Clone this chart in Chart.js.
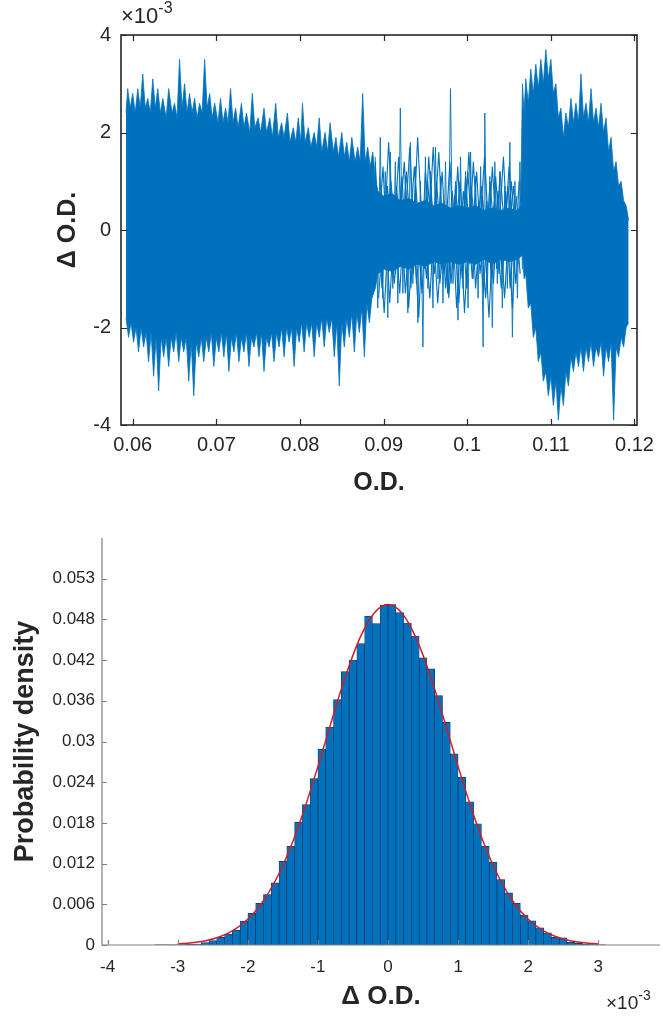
<!DOCTYPE html>
<html><head><meta charset="utf-8">
<script src="https://cdn.jsdelivr.net/npm/chart.js@4.4.1/dist/chart.umd.min.js"></script>
<style>
html,body{margin:0;padding:0;background:#fff;}
#wrap{position:relative;width:663px;height:1016px;overflow:hidden;background:#fff;}
canvas{position:absolute;left:0;}
.exp{position:absolute;font-family:'Liberation Sans',Arial,sans-serif;color:#262626;white-space:nowrap;line-height:1;}
.exp sup{vertical-align:0;position:relative;}
</style></head><body>
<div id="wrap">
<canvas id="top" width="663" height="500" style="top:0"></canvas>
<canvas id="bot" width="663" height="516" style="top:500px"></canvas>
<div class="exp" style="left:121px;top:5px;font-size:22px">×10<sup style="font-size:16px;top:-10px">-3</sup></div>
<div class="exp" style="left:606px;top:993px;font-size:19px">×10<sup style="font-size:14px;top:-9px">-3</sup></div>
</div>
<script>
// ---------- TOP CHART DATA (O.D. vs Δ O.D., Δ O.D. in units of 1e-3) ----------
const upperEnvelope = [
[0.0592,2.4],[0.0594,2.9],[0.0597,2.5],[0.0600,2.8],[0.0603,2.4],[0.0606,2.9],[0.0609,2.5],[0.0612,3.2],[0.0615,2.5],[0.0618,2.7],
[0.0621,2.4],[0.0624,3.1],[0.0627,2.5],[0.0630,2.9],[0.0633,2.4],[0.0636,2.7],[0.0640,2.3],[0.0643,2.9],[0.0647,2.4],[0.0650,2.6],
[0.0653,2.3],[0.0656,3.5],[0.0659,2.5],[0.0662,3.0],[0.0665,2.4],[0.0668,2.8],[0.0671,2.4],[0.0674,2.7],[0.0677,2.3],[0.0680,2.6],
[0.0683,2.4],[0.0686,3.5],[0.0689,2.5],[0.0692,2.8],[0.0695,2.3],[0.0698,2.6],[0.0702,2.2],[0.0705,2.7],[0.0708,2.2],[0.0711,2.5],
[0.0714,2.2],[0.0717,2.9],[0.0720,2.2],[0.0723,2.5],[0.0726,2.1],[0.0730,2.6],[0.0733,2.1],[0.0736,2.4],[0.0740,2.0],[0.0743,2.8],
[0.0746,2.1],[0.0750,2.3],[0.0753,2.0],[0.0757,2.5],[0.0760,2.0],[0.0764,2.3],[0.0767,1.9],[0.0771,2.6],[0.0774,1.9],[0.0778,2.2],
[0.0781,1.9],[0.0785,2.4],[0.0788,1.8],[0.0792,2.1],[0.0795,1.8],[0.0798,2.3],[0.0801,1.8],[0.0803,2.6],[0.0806,1.8],[0.0810,2.1],
[0.0813,1.7],[0.0817,2.0],[0.0820,1.7],[0.0823,2.3],[0.0826,1.6],[0.0830,2.0],[0.0833,1.6],[0.0836,2.2],[0.0840,1.6],[0.0843,1.9],
[0.0846,1.5],[0.0850,2.0],[0.0853,1.5],[0.0856,1.8],[0.0859,1.4],[0.0862,1.9],[0.0866,1.4],[0.0869,1.7],[0.0872,1.4],[0.0875,2.8],
[0.0878,1.4],[0.0881,1.7],[0.0884,1.3],[0.0887,1.6],[0.0890,1.1],
[0.0893,0.8],[0.0900,0.7],[0.0910,0.75],[0.0920,0.6],[0.0930,0.65],[0.0940,0.55],[0.0950,0.6],[0.0960,0.5],[0.0970,0.55],[0.0980,0.45],
[0.0990,0.5],[0.1000,0.45],[0.1010,0.5],[0.1020,0.4],[0.1030,0.45],[0.1040,0.4],[0.1050,0.45],[0.1060,0.4],[0.1064,0.5],
[0.1066,3.0],[0.1068,2.4],[0.1070,3.1],[0.1073,2.6],[0.1076,3.3],[0.1079,2.8],[0.1082,3.4],[0.1085,2.9],[0.1088,3.5],[0.1091,3.0],
[0.1094,3.7],[0.1097,3.1],[0.1100,3.5],[0.1103,2.8],[0.1106,3.0],[0.1109,2.3],[0.1112,2.5],[0.1115,1.9],[0.1118,2.4],[0.1121,2.1],
[0.1124,2.7],[0.1127,2.2],[0.1130,2.6],[0.1133,2.2],[0.1136,3.2],[0.1139,2.3],[0.1142,2.6],[0.1145,2.2],[0.1148,2.9],[0.1151,2.2],
[0.1154,2.5],[0.1157,2.1],[0.1160,2.6],[0.1163,2.0],[0.1166,2.3],[0.1169,1.6],[0.1172,1.9],[0.1175,1.2],[0.1178,1.4],[0.1181,0.9],
[0.1184,1.0],[0.1187,0.6],[0.1190,0.5],[0.1193,0.2]
];
const lowerEnvelope = [
[0.0592,-1.8],[0.0595,-2.2],[0.0598,-1.9],[0.0601,-2.3],[0.0604,-2.0],[0.0607,-2.5],[0.0610,-2.0],[0.0613,-2.4],[0.0616,-2.1],[0.0619,-2.7],
[0.0622,-2.1],[0.0625,-3.0],[0.0628,-2.2],[0.0631,-3.3],[0.0634,-2.2],[0.0637,-2.6],[0.0640,-2.2],[0.0643,-2.8],[0.0646,-2.2],[0.0649,-2.5],
[0.0652,-2.1],[0.0655,-2.7],[0.0658,-2.2],[0.0661,-2.5],[0.0664,-2.2],[0.0667,-3.1],[0.0670,-2.3],[0.0673,-3.4],[0.0676,-2.3],[0.0679,-2.6],
[0.0682,-2.2],[0.0685,-2.7],[0.0688,-2.2],[0.0691,-2.5],[0.0694,-2.1],[0.0697,-2.8],[0.0700,-2.2],[0.0703,-2.5],[0.0706,-2.1],[0.0709,-2.6],
[0.0712,-2.1],[0.0715,-2.9],[0.0718,-2.2],[0.0721,-2.5],[0.0724,-2.1],[0.0727,-2.7],[0.0730,-2.2],[0.0733,-2.5],[0.0736,-2.1],[0.0739,-2.8],
[0.0742,-2.2],[0.0745,-2.4],[0.0748,-2.1],[0.0751,-2.6],[0.0754,-2.1],[0.0757,-2.9],[0.0760,-2.2],[0.0763,-2.4],[0.0766,-2.1],[0.0769,-2.7],
[0.0772,-2.1],[0.0775,-2.4],[0.0778,-2.0],[0.0781,-2.6],[0.0784,-2.0],[0.0787,-2.3],[0.0790,-2.0],[0.0793,-2.8],[0.0796,-2.0],[0.0799,-2.3],
[0.0802,-1.9],[0.0805,-2.5],[0.0808,-1.9],[0.0811,-2.2],[0.0814,-1.9],[0.0817,-2.6],[0.0820,-1.9],[0.0823,-2.2],[0.0826,-1.8],[0.0829,-2.4],
[0.0832,-1.8],[0.0835,-2.1],[0.0838,-1.8],[0.0841,-2.6],[0.0844,-1.9],[0.0847,-3.2],[0.0850,-1.9],[0.0853,-2.4],[0.0856,-1.8],[0.0859,-2.2],
[0.0862,-1.7],[0.0865,-2.5],[0.0868,-1.7],[0.0871,-2.1],[0.0874,-1.6],[0.0877,-2.6],[0.0880,-1.5],[0.0883,-1.9],[0.0886,-1.4],[0.0890,-1.2],
[0.0893,-0.9],[0.0900,-0.8],[0.0910,-0.85],[0.0920,-0.75],[0.0930,-0.8],[0.0940,-0.7],[0.0950,-0.75],[0.0960,-0.65],[0.0970,-0.7],[0.0980,-0.65],
[0.0990,-0.7],[0.1000,-0.65],[0.1010,-0.7],[0.1020,-0.6],[0.1030,-0.7],[0.1040,-0.6],[0.1050,-0.65],[0.1060,-0.6],[0.1064,-0.55],
[0.1066,-0.5],[0.1068,-1.0],[0.1070,-0.9],[0.1073,-1.6],[0.1076,-1.5],[0.1079,-2.2],[0.1082,-2.0],[0.1085,-2.7],[0.1088,-2.5],[0.1091,-3.1],
[0.1094,-2.9],[0.1097,-3.4],[0.1100,-3.0],[0.1103,-3.6],[0.1106,-3.1],[0.1109,-3.9],[0.1112,-3.2],[0.1115,-3.6],[0.1118,-2.9],[0.1121,-3.2],
[0.1124,-2.6],[0.1127,-2.9],[0.1130,-2.5],[0.1133,-2.8],[0.1136,-2.4],[0.1139,-2.9],[0.1142,-2.4],[0.1145,-2.7],[0.1148,-2.3],[0.1151,-2.8],
[0.1154,-2.4],[0.1157,-2.6],[0.1160,-2.3],[0.1163,-3.0],[0.1166,-2.4],[0.1169,-2.7],[0.1172,-2.3],[0.1175,-3.9],[0.1178,-2.4],[0.1181,-2.6],
[0.1184,-2.2],[0.1187,-2.4],[0.1190,-2.0],[0.1193,-1.9]
];
// sparse middle section (0.089 - 0.1066): individual traces
const spikeTrace = [
[0.0890,1.5],[0.0893,-1.6],[0.0896,1.9],[0.0899,-1.4],[0.0902,1.2],[0.0905,-1.8],[0.0908,1.6],[0.0911,-1.2],[0.0914,1.4],[0.0917,-1.5],
[0.0920,2.5],[0.0923,-1.3],[0.0926,1.1],[0.0929,-1.7],[0.0932,1.8],[0.0935,-1.1],[0.0938,1.3],[0.0941,-1.9],[0.0944,1.0],[0.0947,-2.4],
[0.0950,1.5],[0.0953,-1.2],[0.0956,1.2],[0.0959,-1.6],[0.0962,1.7],[0.0965,-1.0],[0.0968,1.1],[0.0971,-1.5],[0.0974,1.4],[0.0977,-1.3],
[0.0980,2.9],[0.0983,-1.1],[0.0986,1.0],[0.0989,-1.85],[0.0992,1.5],[0.0995,-1.2],[0.0998,1.2],[0.1001,-1.6],[0.1004,1.6],[0.1007,-1.0],
[0.1010,1.1],[0.1013,-1.4],[0.1016,1.3],[0.1019,-2.4],[0.1021,2.4],[0.1024,-1.3],[0.1027,1.1],[0.1030,-2.0],[0.1033,1.4],[0.1036,-1.1],
[0.1039,1.2],[0.1042,-1.6],[0.1045,0.9],[0.1048,-1.2],[0.1051,1.8],[0.1054,-2.2],[0.1057,1.0],[0.1060,-1.4],[0.1063,1.4],[0.1066,-0.8]
];
const meshTrace1 = [
[0.0890,1.4],[0.0898,-1.2],[0.0906,1.8],[0.0914,-0.9],[0.0922,1.1],[0.0930,-1.6],[0.0938,0.8],[0.0946,-1.3],[0.0954,1.5],[0.0962,-0.7],
[0.0970,1.2],[0.0978,-1.4],[0.0986,0.9],[0.0994,-1.0],[0.1002,1.6],[0.1010,-1.2],[0.1018,0.7],[0.1026,-1.8],[0.1034,1.1],[0.1042,-0.9],
[0.1050,1.3],[0.1058,-1.1],[0.1066,0.5]
];
const meshTrace2 = [
[0.08913,-0.8],[0.08993,1.3],[0.09073,-1.5],[0.09153,0.9],[0.09233,-0.6],[0.09313,1.7],[0.09393,-1.1],[0.09473,0.6],[0.09553,-1.4],[0.09633,1.0],
[0.09713,-0.9],[0.09793,1.4],[0.09873,-1.6],[0.09953,0.8],[0.10033,-0.7],[0.10113,1.2],[0.10193,-1.3],[0.10273,1.0],[0.10353,-0.8],[0.10433,1.5],
[0.10513,-1.2],[0.10593,0.7]
];
const meshTrace3 = [
[0.08927,0.5],[0.09007,-1.7],[0.09087,1.0],[0.09167,-0.5],[0.09247,1.4],[0.09327,-1.2],[0.09407,1.9],[0.09487,-0.8],[0.09567,0.9],[0.09647,-1.5],
[0.09727,0.6],[0.09807,-1.1],[0.09887,1.3],[0.09967,-1.7],[0.10047,0.9],[0.10127,-0.6],[0.10207,1.5],[0.10287,-1.0],[0.10367,0.8],[0.10447,-1.4],
[0.10527,1.0],[0.10607,-0.7]
];
const meshTrace4 = [
[0.0894,-1.4],[0.0902,0.7],[0.0910,-0.9],[0.0918,1.5],[0.0926,-1.3],[0.0934,0.6],[0.0942,-1.8],[0.0950,1.2],[0.0958,-0.7],[0.0966,1.6],
[0.0974,-1.2],[0.0982,0.8],[0.0990,-1.5],[0.0998,1.1],[0.1006,-1.0],[0.1014,0.6],[0.1022,-1.4],[0.1030,1.3],[0.1038,-0.9],[0.1046,0.8],
[0.1054,-1.6],[0.1062,1.0]
];
const meshTrace5 = [
[0.08953,1.1],[0.09033,-0.6],[0.09113,0.6],[0.09193,-1.3],[0.09273,1.2],[0.09353,-0.9],[0.09433,0.5],[0.09513,-1.0],[0.09593,1.7],[0.09673,-1.1],
[0.09753,0.4],[0.09833,-0.8],[0.09913,1.0],[0.09993,-1.2],[0.10073,1.4],[0.10153,-0.9],[0.10233,0.6],[0.10313,-1.1],[0.10393,1.2],[0.10473,-0.6],
[0.10553,0.9],[0.10633,-0.9]
];
const meshTrace6 = [
[0.08967,-0.4],[0.09047,0.9],[0.09127,-1.1],[0.09207,0.4],[0.09287,-0.8],[0.09367,1.3],[0.09447,-0.5],[0.09527,1.0],[0.09607,-0.9],[0.09687,0.5],
[0.09767,-1.3],[0.09847,0.7],[0.09927,-0.4],[0.10007,1.2],[0.10087,-0.8],[0.10167,0.9],[0.10247,-0.5],[0.10327,0.6],[0.10407,-1.2],[0.10487,0.9],
[0.10567,-0.6],[0.10647,0.8]
];
const topXTicks = [0.06,0.07,0.08,0.09,0.10,0.11,0.12];
const topXTickLabels = ['0.06','0.07','0.08','0.09','0.1','0.11','0.12'];
const topYTicks = [-4,-2,0,2,4];
const topYTickLabels = ['-4','-2','0','2','4'];

// ---------- BOTTOM CHART DATA (histogram of Δ O.D., x in units of 1e-3) ----------
const binCenters = [-3.275,-3.164,-3.053,-2.942,-2.831,-2.720,-2.609,-2.498,-2.387,-2.276,
-2.165,-2.054,-1.943,-1.832,-1.721,-1.610,-1.499,-1.388,-1.277,-1.166,
-1.055,-0.944,-0.833,-0.722,-0.611,-0.500,-0.389,-0.278,-0.167,-0.056,
0.056,0.167,0.278,0.389,0.500,0.611,0.722,0.833,0.944,1.055,
1.166,1.277,1.388,1.499,1.610,1.721,1.832,1.943,2.054,2.165,
2.276,2.387,2.498,2.609,2.720,2.831,2.942,3.053];
const binDensity = [0.00002,0.00003,0.00004,0.00006,0.0001,0.00015,0.00034,0.00063,0.00112,0.00155,
0.00218,0.00349,0.00461,0.00607,0.00737,0.00907,0.0122,0.0144,0.0179,0.0205,
0.0243,0.0286,0.0318,0.0358,0.0399,0.0416,0.0440,0.0480,0.0469,0.0496,
0.0497,0.0485,0.0470,0.0451,0.0419,0.0403,0.0364,0.0325,0.0279,0.0245,
0.0209,0.0177,0.0144,0.0121,0.00956,0.00761,0.00607,0.00437,0.00354,0.00252,
0.00179,0.00112,0.00106,0.00039,0.00025,0.0001,0.00005,0.00003];
const fitX = [-3.0,-2.8,-2.6,-2.4,-2.2,-2.0,-1.8,-1.6,-1.4,-1.2,-1.0,-0.8,-0.6,-0.4,-0.2,0,
0.2,0.4,0.6,0.8,1.0,1.2,1.4,1.6,1.8,2.0,2.2,2.4,2.6,2.8,3.0];
const fitDensity = [0.00015,0.00032,0.00063,0.00121,0.00218,0.00376,0.00613,0.00952,0.01402,0.01961,0.02606,0.03288,0.03939,0.04482,0.04843,0.0497,
0.04843,0.04482,0.03939,0.03288,0.02606,0.01961,0.01402,0.00952,0.00613,0.00376,0.00218,0.00121,0.00063,0.00032,0.00015];
const botXTicks = [-4,-3,-2,-1,0,1,2,3];
const botXTickLabels = ['-4','-3','-2','-1','0','1','2','3'];
const botYTicks = [0,0.00594,0.01188,0.01782,0.02376,0.0297,0.03564,0.04158,0.04752,0.05346];
const botYTickLabels = ['0','0.006','0.012','0.018','0.024','0.03','0.036','0.042','0.048','0.053'];

// ---------- RENDER ----------
Chart.defaults.font.family = "'Liberation Sans', Arial, Helvetica, sans-serif";
Chart.defaults.color = '#262626';
const BLUE = '#0072BD';
const toXY = arr => arr.map(p => ({x: p[0], y: p[1]}));
const trace = (arr, w) => ({ data: toXY(arr), borderColor: BLUE, borderWidth: w, pointRadius: 0, fill: false, tension: 0 });

const topFrame = {
  id: 'topFrame',
  afterDraw(chart) {
    const {ctx, chartArea: a, scales: {x, y}} = chart;
    ctx.save();
    ctx.strokeStyle = '#262626';
    ctx.lineWidth = 1.6;
    ctx.strokeRect(a.left, a.top, a.right - a.left, a.bottom - a.top);
    ctx.lineWidth = 1.2;
    const L = 6;
    ctx.beginPath();
    x.ticks.forEach(t => { const px = Math.round(x.getPixelForValue(t.value)) + 0.5;
      ctx.moveTo(px, a.bottom); ctx.lineTo(px, a.bottom - L);
      ctx.moveTo(px, a.top); ctx.lineTo(px, a.top + L); });
    y.ticks.forEach(t => { const py = Math.round(y.getPixelForValue(t.value)) + 0.5;
      ctx.moveTo(a.left, py); ctx.lineTo(a.left + L, py);
      ctx.moveTo(a.right, py); ctx.lineTo(a.right - L, py); });
    ctx.stroke();
    ctx.restore();
  }
};

new Chart(document.getElementById('top'), {
  type: 'line',
  data: { datasets: [
    { data: toXY(upperEnvelope), borderColor: BLUE, backgroundColor: BLUE, borderWidth: 0.8, pointRadius: 0, fill: '+1', tension: 0 },
    { data: toXY(lowerEnvelope), borderColor: BLUE, backgroundColor: BLUE, borderWidth: 0.8, pointRadius: 0, fill: false, tension: 0 },
    trace(spikeTrace, 0.9),
    trace(meshTrace1, 1.1), trace(meshTrace2, 1.1), trace(meshTrace3, 1.1),
    trace(meshTrace4, 1.1), trace(meshTrace5, 1.1), trace(meshTrace6, 1.1)
  ]},
  options: {
    responsive: false, animation: false, events: [],
    layout: { padding: { left: 0, right: 26, top: 35, bottom: 0 } },
    plugins: { legend: { display: false }, tooltip: { enabled: false } },
    scales: {
      x: { type: 'linear', min: 0.0586, max: 0.1203,
        afterBuildTicks: s => { s.ticks = topXTicks.map(v => ({value: v})); },
        afterFit: s => { s.height = 75; },
        ticks: { autoSkip: false, maxRotation: 0, padding: 8, font: { size: 20 }, callback: (v, i) => topXTickLabels[i] },
        grid: { display: false, drawTicks: false }, border: { display: false },
        title: { display: true, text: 'O.D.', font: { size: 25, weight: 'bold' }, padding: { top: 0, bottom: 2 } } },
      y: { type: 'linear', min: -4, max: 4,
        afterBuildTicks: s => { s.ticks = topYTicks.map(v => ({value: v})); },
        afterFit: s => { s.width = 121; },
        ticks: { autoSkip: false, padding: 10, font: { size: 20 }, callback: (v, i) => topYTickLabels[i] },
        grid: { display: false, drawTicks: false }, border: { display: false },
        title: { display: true, text: 'Δ O.D.', font: { size: 25, weight: 'bold' }, padding: { top: 53, bottom: 0 } } }
    }
  },
  plugins: [topFrame]
});

const botAxes = {
  id: 'botAxes',
  afterDraw(chart) {
    const {ctx, chartArea: a, scales: {x, y}} = chart;
    ctx.save();
    ctx.strokeStyle = '#808080';
    ctx.lineWidth = 1.2;
    const L = 5;
    ctx.beginPath();
    ctx.moveTo(a.left, a.top); ctx.lineTo(a.left, a.bottom); ctx.lineTo(a.right, a.bottom);
    x.ticks.forEach(t => { const px = Math.round(x.getPixelForValue(t.value)) + 0.5;
      ctx.moveTo(px, a.bottom); ctx.lineTo(px, a.bottom - L); });
    y.ticks.forEach(t => { const py = Math.round(y.getPixelForValue(t.value)) + 0.5;
      ctx.moveTo(a.left, py); ctx.lineTo(a.left + L, py); });
    ctx.stroke();
    ctx.restore();
  }
};

new Chart(document.getElementById('bot'), {
  type: 'bar',
  data: { datasets: [
    { type: 'line', data: fitX.map((v, i) => ({x: v, y: fitDensity[i]})), borderColor: '#C8202A', borderWidth: 1.5,
      pointRadius: 0, fill: false, cubicInterpolationMode: 'monotone', order: 0 },
    { type: 'bar', data: binCenters.map((v, i) => ({x: v, y: binDensity[i]})), backgroundColor: BLUE,
      borderColor: '#17325c', borderWidth: 0.7, barPercentage: 1, categoryPercentage: 1, order: 1 }
  ]},
  options: {
    responsive: false, animation: false, events: [],
    layout: { padding: { left: 0, right: 3, top: 38, bottom: 0 } },
    plugins: { legend: { display: false }, tooltip: { enabled: false } },
    scales: {
      x: { type: 'linear', min: -4.08, max: 3.88, offset: false,
        afterBuildTicks: s => { s.ticks = botXTicks.map(v => ({value: v})); },
        afterFit: s => { s.height = 71; },
        ticks: { autoSkip: false, maxRotation: 0, padding: 12, font: { size: 17 }, callback: (v, i) => botXTickLabels[i] },
        grid: { display: false, drawTicks: false }, border: { display: false },
        title: { display: true, text: 'Δ O.D.', font: { size: 26, weight: 'bold' }, padding: { top: 0, bottom: 4 } } },
      y: { type: 'linear', min: 0, max: 0.0594,
        afterBuildTicks: s => { s.ticks = botYTicks.map(v => ({value: v})); },
        afterFit: s => { s.width = 102; },
        ticks: { autoSkip: false, padding: 7, font: { size: 17 }, callback: (v, i) => botYTickLabels[i] },
        grid: { display: false, drawTicks: false }, border: { display: false },
        title: { display: true, text: 'Probability density', font: { size: 27, weight: 'bold' }, padding: { top: 9, bottom: 0 } } }
    }
  },
  plugins: [botAxes]
});
</script>
</body></html>
